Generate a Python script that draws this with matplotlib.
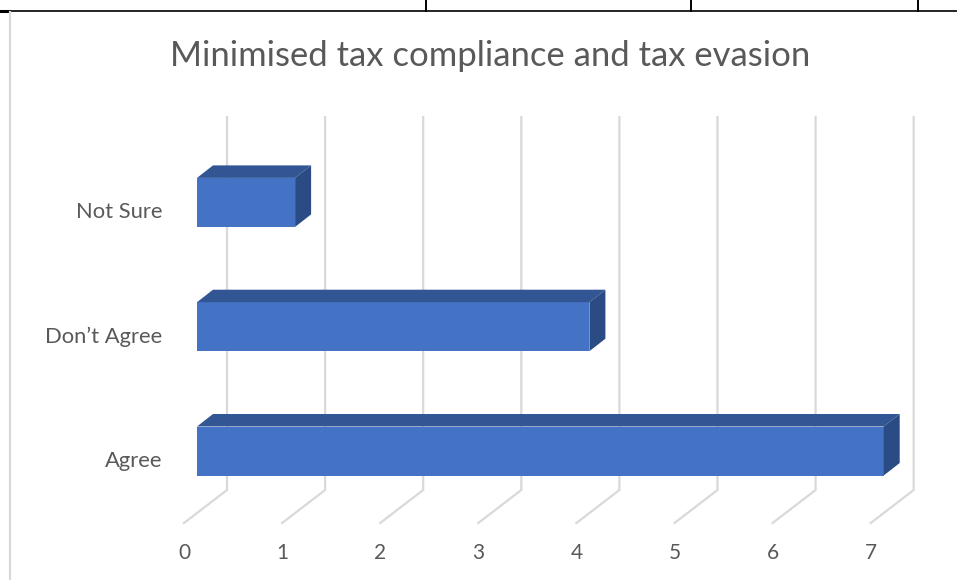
import numpy as np
import matplotlib
matplotlib.use("Agg")
import matplotlib.pyplot as plt
from matplotlib.patches import Polygon
from matplotlib.lines import Line2D

# survey answers and counts
categories = ["Agree", "Don\u2019t Agree", "Not Sure"]
counts = [7, 4, 1]
ticks = [0, 1, 2, 3, 4, 5, 6, 7]
title = "Minimised tax compliance and tax evasion"

FRONT = "#4472C4"
TOP = "#325594"
SIDE = "#2A4B84"
GRID = "#D9D9D9"
TEXT = "#595959"

plt.rcParams["font.family"] = ["Lato", "DejaVu Sans"]

W, H, DPI = 957, 580, 100
fig = plt.figure(figsize=(W / DPI, H / DPI), dpi=DPI)
ax = fig.add_axes([0, 0, 1, 1])

# one value unit / one category step in pixels
UX = 98.1
UY = 124.3
X0_PX = 197.0          # value 0 on the front face of the bars
Y0_PX = 451.0          # centre of the first category (from top)
ax.set_xlim(-X0_PX / UX, (W - X0_PX) / UX)
ax.set_ylim((Y0_PX - H) / UY, Y0_PX / UY)
ax.axis("off")

# oblique depth offsets (value units, category units)
bar_dx, bar_dy = 16 / UX, 12.5 / UY
wall_dx, floor_dx = 30 / UX, -13 / UX
wall_top, wall_bot, floor_y = (Y0_PX - 117) / UY, (Y0_PX - 490) / UY, (Y0_PX - 523) / UY
bar_h = 49 / UY

# back wall gridlines folding onto the floor
for t in ticks:
    ax.plot([t + wall_dx, t + wall_dx, t + floor_dx], [wall_top, wall_bot, floor_y],
            color=GRID, lw=1.6, solid_joinstyle="miter", zorder=1)
    ax.text(t + floor_dx, (Y0_PX - 553) / UY, str(t), ha="center", va="center",
            fontsize=15, color=TEXT)

# 3D bars: front, top and side faces
for i, (cat, v) in enumerate(zip(categories, counts)):
    y_lo, y_hi = i - bar_h / 2, i + bar_h / 2
    front = Polygon([(0, y_lo), (v, y_lo), (v, y_hi), (0, y_hi)], closed=True,
                    facecolor=FRONT, edgecolor="none", zorder=3)
    top = Polygon([(0, y_hi), (v, y_hi), (v + bar_dx, y_hi + bar_dy), (bar_dx, y_hi + bar_dy)],
                  closed=True, facecolor=TOP, edgecolor="none", zorder=3)
    side = Polygon([(v, y_lo), (v + bar_dx, y_lo + bar_dy), (v + bar_dx, y_hi + bar_dy), (v, y_hi)],
                   closed=True, facecolor=SIDE, edgecolor="none", zorder=3)
    for p in (front, top, side):
        ax.add_patch(p)
    ax.text(-35 / UX, i - 10 / UY, cat, ha="right", va="center", fontsize=15.8, color=TEXT)

ax.text((490 - X0_PX) / UX, (Y0_PX - 56) / UY, title, ha="center", va="center",
        fontsize=24.9, color=TEXT)

# surrounding page table rules and chart border
def px_line(xs, ys, **kw):
    fig.add_artist(Line2D([x / W for x in xs], [1 - y / H for y in ys], **kw))

px_line([0, W], [11, 11], color="black", lw=1.2)
px_line([0, 9], [11, 11], color="black", lw=2.2)
for x in (426, 691, 918):
    px_line([x, x], [0, 11], color="black", lw=1.4)
px_line([10, 10], [12, H], color=GRID, lw=1.6)

fig.savefig("out.png", dpi=DPI)
